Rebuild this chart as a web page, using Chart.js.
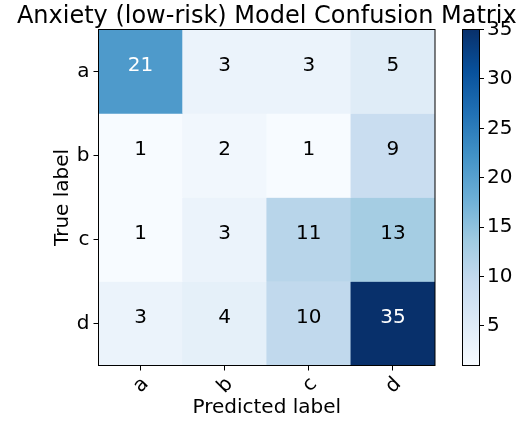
<!DOCTYPE html>
<html>
<head>
<meta charset="utf-8">
<script src="https://cdn.jsdelivr.net/npm/chart.js@4/dist/chart.umd.min.js"></script>
<style>
  html, body { margin: 0; padding: 0; background: #fff; }
  #wrap { position: relative; width: 527px; height: 426px; }
  #main { position: absolute; left: 0; top: 0; }
  #cbar { position: absolute; left: 440px; top: 0; }
</style>
</head>
<body>
<div id="wrap">
  <canvas id="main" width="527" height="426"></canvas>
  <canvas id="cbar" width="87" height="426"></canvas>
</div>
<script>
// ---- data ----
const titleText = 'Anxiety (low-risk) Model Confusion Matrix';
const predictedLabels = ['a', 'b', 'c', 'd'];
const trueLabels = ['a', 'b', 'c', 'd'];
const rowA = [21, 3, 3, 5];
const rowB = [1, 2, 1, 9];
const rowC = [1, 3, 11, 13];
const rowD = [3, 4, 10, 35];
const matrixRows = [rowA, rowB, rowC, rowD];
const colorbarTicks = [5, 10, 15, 20, 25, 30, 35];
const xAxisTitle = 'Predicted label';
const yAxisTitle = 'True label';

const FONT = "'DejaVu Sans', sans-serif";
const allVals = matrixRows.flat();
const vmin = Math.min(...allVals);
const vmax = Math.max(...allVals);

// matplotlib Blues colormap
const BLUES = [
  [247,251,255],[222,235,247],[198,219,239],[158,202,225],[107,174,214],
  [66,146,198],[33,113,181],[8,81,156],[8,48,107]
];
function blues(t) {
  t = Math.max(0, Math.min(1, t));
  const p = t * (BLUES.length - 1);
  const i = Math.min(Math.floor(p), BLUES.length - 2);
  const f = p - i;
  const c = BLUES[i].map((v, k) => Math.round(v + (BLUES[i + 1][k] - v) * f));
  return `rgb(${c[0]},${c[1]},${c[2]})`;
}
function colorFor(v) { return blues((v - vmin) / (vmax - vmin)); }

// chart area geometry (pixels)
const AREA = { left: 98.5, top: 29.5, right: 435, bottom: 365.5 };
const W = 527, H = 426;

const datasets = matrixRows.map((row, r) => ({
  label: trueLabels[r],
  data: row.map(() => [r - 0.5, r + 0.5]),
  backgroundColor: row.map(colorFor),
  borderWidth: 0,
  grouped: false,
  barPercentage: 1,
  categoryPercentage: 1
}));

const framePlugin = {
  id: 'frame',
  afterDatasetsDraw(chart) {
    const { ctx, chartArea: a, scales } = chart;
    ctx.save();
    // cell values
    ctx.font = `20px ${FONT}`;
    ctx.textAlign = 'center';
    ctx.textBaseline = 'middle';
    matrixRows.forEach((row, r) => {
      row.forEach((v, c) => {
        const x = scales.x.getPixelForValue(c);
        const y = scales.y.getPixelForValue(r);
        ctx.fillStyle = v > vmax / 2 ? '#ffffff' : '#000000';
        ctx.fillText(String(v), x, y - 6);
      });
    });
    // frame
    ctx.strokeStyle = '#000';
    ctx.lineWidth = 1;
    ctx.strokeRect(a.left, a.top, a.right - a.left, a.bottom - a.top);
    // title
    ctx.fillStyle = '#000';
    ctx.font = `24px ${FONT}`;
    ctx.textAlign = 'center';
    ctx.textBaseline = 'alphabetic';
    ctx.fillText(titleText, (a.left + a.right) / 2, 23);
    ctx.restore();
  }
};

new Chart(document.getElementById('main'), {
  type: 'bar',
  data: { labels: predictedLabels, datasets },
  options: {
    responsive: false,
    animation: false,
    devicePixelRatio: 1,
    layout: { padding: { left: 0, top: AREA.top, right: W - AREA.right, bottom: 0 } },
    plugins: { legend: { display: false }, tooltip: { enabled: false }, title: { display: false } },
    scales: {
      x: {
        type: 'category',
        offset: true,
        grid: { display: true, drawOnChartArea: false, drawTicks: true, tickLength: 5, color: '#000', offset: false, lineWidth: 1 },
        border: { display: false },
        ticks: { color: '#000', font: { family: FONT, size: 20 }, minRotation: 45, maxRotation: 45, padding: 2, labelOffset: 5 },
        title: { display: true, text: xAxisTitle, color: '#000', font: { family: FONT, size: 20 }, padding: { top: 0, bottom: 6 } },
        afterFit(s) { s.height = H - AREA.bottom; }
      },
      y: {
        type: 'linear',
        min: -0.5,
        max: 3.5,
        reverse: true,
        grid: { display: true, drawOnChartArea: false, drawTicks: true, tickLength: 5, color: '#000', lineWidth: 1 },
        border: { display: false },
        afterBuildTicks(s) { s.ticks = trueLabels.map((_, i) => ({ value: i })); },
        ticks: { color: '#000', font: { family: FONT, size: 20 }, padding: 4, callback: (v) => trueLabels[v] },
        title: { display: true, text: yAxisTitle, color: '#000', font: { family: FONT, size: 20 }, padding: { top: 51, bottom: 0 } },
        afterFit(s) { s.width = AREA.left; }
      }
    }
  },
  plugins: [framePlugin]
});

// ---- colorbar ----
const CB = { left: 462 - 440, right: 479 - 440 };
const cbFrame = {
  id: 'cbFrame',
  afterDatasetsDraw(chart) {
    const { ctx, chartArea: a } = chart;
    ctx.save();
    ctx.strokeStyle = '#000';
    ctx.lineWidth = 1;
    ctx.strokeRect(Math.round(a.left) + 0.5, a.top, Math.round(a.right - a.left), a.bottom - a.top);
    ctx.restore();
  }
};
new Chart(document.getElementById('cbar'), {
  type: 'bar',
  data: {
    labels: [''],
    datasets: [{
      data: [[vmin, vmax]],
      borderWidth: 0,
      barPercentage: 1,
      categoryPercentage: 1,
      backgroundColor(ctx) {
        const a = ctx.chart.chartArea;
        if (!a) return BLUES[0];
        const g = ctx.chart.ctx.createLinearGradient(0, a.bottom, 0, a.top);
        BLUES.forEach((c, i) => g.addColorStop(i / (BLUES.length - 1), `rgb(${c[0]},${c[1]},${c[2]})`));
        return g;
      }
    }]
  },
  options: {
    responsive: false,
    animation: false,
    devicePixelRatio: 1,
    layout: { padding: { left: CB.left, top: AREA.top, right: 0, bottom: H - AREA.bottom } },
    plugins: { legend: { display: false }, tooltip: { enabled: false } },
    scales: {
      x: { display: false },
      y: {
        type: 'linear',
        position: 'right',
        min: vmin,
        max: vmax,
        grid: { display: true, drawOnChartArea: false, drawTicks: true, tickLength: 5, color: '#000' },
        border: { display: false },
        afterBuildTicks(s) { s.ticks = colorbarTicks.map(v => ({ value: v })); },
        ticks: { color: '#000', font: { family: FONT, size: 20 }, padding: 3 },
        afterFit(s) { s.width = 87 - CB.right; }
      }
    }
  },
  plugins: [cbFrame]
});
</script>
</body>
</html>
